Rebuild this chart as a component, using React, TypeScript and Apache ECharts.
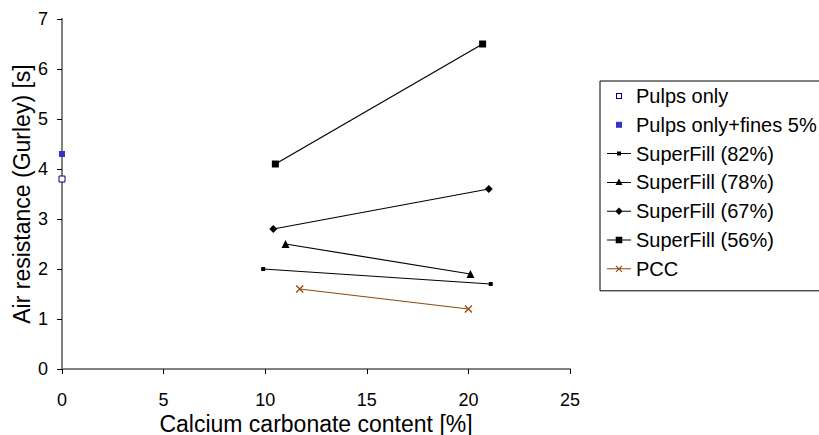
import React, { useEffect, useRef } from "react";
import * as echarts from "echarts";

const xPulps = [0];
const pulpsOnly = [3.8];
const pulpsFines = [4.3];
const sf82X = [9.9, 21.1];
const sf82Y = [2.0, 1.7];
const sf78X = [11.0, 20.1];
const sf78Y = [2.5, 1.9];
const sf67X = [10.4, 21.0];
const sf67Y = [2.8, 3.6];
const sf56X = [10.5, 20.7];
const sf56Y = [4.1, 6.5];
const pccX = [11.7, 20.0];
const pccY = [1.6, 1.2];
const seriesNames = [
  "Pulps only",
  "Pulps only+fines 5%",
  "SuperFill (82%)",
  "SuperFill (78%)",
  "SuperFill (67%)",
  "SuperFill (56%)",
  "PCC",
];

const FONT = "'Liberation Sans', Arial, sans-serif";
const BROWN = "#8B4A12";

const zip = (xs: number[], ys: number[]) => xs.map((x, i) => [x, ys[i]]);

const FRAME = "M0,0M24,14";
const LINE = "M0,6.5L24,6.5L24,7.5L0,7.5Z";
const icons = [
  "path://" + FRAME + "M9,4L15,4L15,10L9,10ZM10,5L10,9L14,9L14,5Z",
  "path://" + FRAME + "M9,4L15,4L15,10L9,10Z",
  "path://" + FRAME + LINE + "M10,5L14,5L14,9L10,9Z",
  "path://" + FRAME + LINE + "M12,3L15.5,9.5L8.5,9.5Z",
  "path://" + FRAME + LINE + "M12,3.3L15.7,7L12,10.7L8.3,7Z",
  "path://" + FRAME + LINE + "M8.7,3.7L15.3,3.7L15.3,10.3L8.7,10.3Z",
  "path://" + FRAME + LINE + "M8.6,4.4L9.4,3.6L15.4,9.6L14.6,10.4ZM14.6,3.6L15.4,4.4L9.4,10.4L8.6,9.6Z",
];
const iconColors = ["#000080", "#3333cc", "#000", "#000", "#000", "#000", BROWN];

export default function App() {
  const ref = useRef<HTMLDivElement>(null);
  useEffect(() => {
    document.body.style.margin = "0";
    const chart = echarts.init(ref.current!, null, { renderer: "svg" });
    const lineSeries = (name: string, data: number[][], symbol: string, size: number) => ({
      name,
      type: "line",
      data,
      symbol,
      symbolSize: size,
      showSymbol: true,
      lineStyle: { color: "#000", width: 1.2 },
      itemStyle: { color: "#000", borderWidth: 0 },
      z: 3,
    });
    chart.setOption({
      animation: false,
      textStyle: { fontFamily: FONT },
      grid: {
        left: 62,
        right: 249,
        top: 19,
        bottom: 66,
        containLabel: false,
        outerBoundsMode: "none",
      },
      legend: {
        orient: "vertical",
        left: 600,
        top: 81,
        padding: [5, 40, 12, 7],
        borderColor: "#000",
        borderWidth: 1,
        itemWidth: 24,
        itemHeight: 14,
        itemGap: 8.8,
        textStyle: { fontSize: 20, color: "#000", fontFamily: FONT },
        itemStyle: { borderWidth: 0 },
        data: seriesNames.map((n, i) => ({
          name: n,
          icon: icons[i],
          itemStyle: { color: iconColors[i], borderWidth: 0 },
        })),
      },
      xAxis: [
        {
          type: "value",
          min: 0,
          max: 25,
          interval: 5,
          name: "Calcium carbonate content [%]",
          nameLocation: "middle",
          nameGap: 43,
          nameMoveOverlap: false,
          nameTextStyle: { fontSize: 23, color: "#000", fontFamily: FONT },
          axisLine: { show: true, onZero: false, lineStyle: { color: "#000", width: 1 } },
          axisTick: { show: true, length: 5, lineStyle: { color: "#000" } },
          axisLabel: { fontSize: 18, color: "#000", margin: 22, fontFamily: FONT },
          splitLine: { show: false },
        },
        {
          type: "value",
          min: 0,
          max: 25,
          position: "top",
          axisLine: { show: true, lineStyle: { color: "#808080", width: 2 } },
          axisTick: { show: false },
          axisLabel: { show: false },
          splitLine: { show: false },
        },
      ],
      yAxis: [
        {
          type: "value",
          min: 0,
          max: 7,
          interval: 1,
          name: "Air resistance (Gurley) [s]",
          nameLocation: "middle",
          nameGap: 29,
          nameMoveOverlap: false,
          nameTextStyle: { fontSize: 23, color: "#000", fontFamily: FONT },
          axisLine: { show: true, onZero: false, lineStyle: { color: "#000", width: 1 } },
          axisTick: { show: true, length: 5, lineStyle: { color: "#000" } },
          axisLabel: { fontSize: 18, color: "#000", margin: 14, fontFamily: FONT },
          splitLine: { show: false },
        },
        {
          type: "value",
          min: 0,
          max: 7,
          position: "right",
          axisLine: { show: true, lineStyle: { color: "#808080", width: 2 } },
          axisTick: { show: false },
          axisLabel: { show: false },
          splitLine: { show: false },
        },
      ],
      series: [
        {
          name: seriesNames[0],
          type: "scatter",
          data: zip(xPulps, pulpsOnly),
          symbol: "rect",
          symbolSize: 6,
          itemStyle: { color: "#fff", borderColor: "#000080", borderWidth: 1, opacity: 1 },
          z: 4,
        },
        {
          name: seriesNames[1],
          type: "scatter",
          data: zip(xPulps, pulpsFines),
          symbol: "rect",
          symbolSize: 6,
          itemStyle: { color: "#3333cc", opacity: 1 },
          z: 4,
        },
        lineSeries(seriesNames[2], zip(sf82X, sf82Y), "rect", 4),
        lineSeries(seriesNames[3], zip(sf78X, sf78Y), "triangle", 8),
        lineSeries(seriesNames[4], zip(sf67X, sf67Y), "diamond", 8),
        lineSeries(seriesNames[5], zip(sf56X, sf56Y), "rect", 7),
        {
          name: seriesNames[6],
          type: "line",
          data: zip(pccX, pccY),
          symbol: "path://M0,0L10,10M10,0L0,10",
          symbolSize: 7,
          lineStyle: { color: BROWN, width: 1.2 },
          itemStyle: { color: "transparent", borderColor: BROWN, borderWidth: 1.3 },
          z: 3,
        },
      ],
    });
    return () => chart.dispose();
  }, []);
  return <div ref={ref} style={{ width: 819, height: 435 }} />;
}
